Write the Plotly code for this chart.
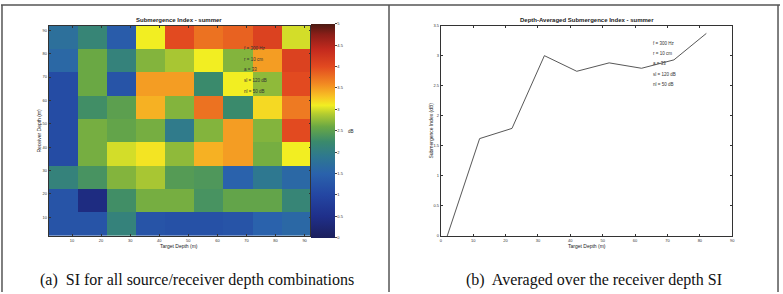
import plotly.graph_objects as go

W, H = 783, 294

# ---------- data ----------
target_depth = [7, 17, 27, 37, 47, 57, 67, 77, 87]
receiver_depth = [7, 17, 27, 37, 47, 57, 67, 77, 87]
# rows bottom (receiver 7 m) -> top (receiver 87 m), values in dB
si_row_07 = [1.25, 1.25, 2.10, 1.25, 1.20, 1.20, 1.25, 1.50, 1.60]
si_row_17 = [1.25, 0.40, 2.30, 2.65, 2.65, 2.35, 2.55, 2.55, 2.15]
si_row_27 = [2.10, 2.35, 2.70, 2.85, 2.45, 2.40, 1.50, 1.90, 1.60]
si_row_37 = [1.10, 2.65, 3.00, 3.15, 2.75, 3.40, 3.50, 2.65, 3.10]
si_row_47 = [1.10, 2.65, 2.55, 2.65, 1.95, 2.70, 3.50, 2.70, 4.00]
si_row_57 = [1.10, 2.30, 2.50, 3.40, 2.70, 3.75, 2.25, 3.20, 3.70]
si_row_67 = [1.10, 2.60, 1.25, 3.50, 3.50, 2.25, 3.10, 2.75, 4.00]
si_row_77 = [1.60, 2.60, 2.10, 2.70, 2.85, 3.10, 2.70, 3.50, 4.10]
si_row_87 = [1.75, 2.15, 1.40, 3.10, 4.00, 3.75, 3.85, 4.10, 3.00]

avg_depth = [2, 12, 22, 32, 42, 52, 62, 72, 82]
avg_si = [0.0, 1.62, 1.79, 3.0, 2.74, 2.88, 2.79, 2.93, 3.37]

x_ticks = [10, 20, 30, 40, 50, 60, 70, 80, 90]
y_ticks_left = [10, 20, 30, 40, 50, 60, 70, 80, 90]
cbar_ticks = [0, 0.5, 1, 1.5, 2, 2.5, 3, 3.5, 4, 4.5, 5]
right_x_ticks = [0, 10, 20, 30, 40, 50, 60, 70, 80, 90]
right_y_ticks = [0, 0.5, 1, 1.5, 2, 2.5, 3, 3.5]
param_text = ["f = 300 Hz", "r = 10 cm", "a = 33", "sl = 120 dB", "nl = 50 dB"]

z = [si_row_07, si_row_17, si_row_27, si_row_37, si_row_47,
     si_row_57, si_row_67, si_row_77, si_row_87]

colorscale = [
    [0.00, "#1b1f5c"], [0.10, "#1f2f8a"], [0.20, "#2446a2"], [0.30, "#2a62ac"],
    [0.38, "#2e7890"], [0.45, "#3a8a6c"], [0.52, "#6aa844"], [0.58, "#b4cc30"],
    [0.62, "#f2ee22"], [0.66, "#f8c424"], [0.72, "#f28a22"], [0.80, "#e24a20"],
    [0.88, "#c42a1e"], [0.95, "#8c1e18"], [1.00, "#4a1a12"],
]

def px_x(p):
    return p / W

def px_y(p):
    return 1 - p / H

FONT = "Liberation Sans, Arial, sans-serif"
tickfont = dict(family=FONT, size=4, color="#333")

fig = go.Figure()

fig.add_trace(go.Heatmap(
    x=target_depth, y=receiver_depth, z=z,
    zmin=0, zmax=5, colorscale=colorscale, xaxis="x", yaxis="y",
    colorbar=dict(
        x=px_x(312), xanchor="left", xpad=0, ypad=0,
        y=px_y(130), yanchor="middle",
        thickness=24, thicknessmode="pixels",
        len=214, lenmode="pixels",
        outlinewidth=0, tickvals=cbar_ticks, ticks="outside",
        ticklen=2, tickfont=tickfont,
    ),
))

fig.add_trace(go.Scatter(
    x=avg_depth, y=avg_si, mode="lines",
    line=dict(color="#444", width=0.9), xaxis="x2", yaxis="y2",
    showlegend=False,
))

axis_common = dict(
    ticks="inside", ticklen=2, tickcolor="#333", showline=True,
    linecolor="#333", linewidth=0.8, mirror="ticks", showgrid=False,
    zeroline=False, tickfont=tickfont,
)

ydom = [px_y(237), px_y(23)]
fig.update_layout(
    width=W, height=H, margin=dict(l=0, r=0, t=0, b=0),
    paper_bgcolor="white", plot_bgcolor="white", showlegend=False,
    xaxis=dict(domain=[px_x(48), px_x(311)], range=[2, 92], tickvals=x_ticks,
               anchor="y", **axis_common),
    yaxis=dict(domain=ydom, range=[2, 92], tickvals=y_ticks_left,
               anchor="x", **axis_common),
    xaxis2=dict(domain=[px_x(442), px_x(735)], range=[0, 90],
                tickvals=right_x_ticks, anchor="y2", **axis_common),
    yaxis2=dict(domain=ydom, range=[0, 3.5], tickvals=right_y_ticks,
                anchor="x2", **axis_common),
)

ann = []
def A(text, x, y, size=5, xanchor="center", yanchor="middle", angle=0,
      color="#222", family=FONT, bold=False):
    ann.append(dict(text=("<b>%s</b>" % text) if bold else text,
                    x=px_x(x), y=px_y(y), xref="paper", yref="paper",
                    showarrow=False, xanchor=xanchor, yanchor=yanchor,
                    textangle=angle,
                    font=dict(family=family, size=size, color=color)))

A("Submergence Index - summer", 179, 17, size=6, bold=True)
A("Target Depth (m)", 179, 247, size=5)
A("Receiver Depth (m)", 38, 130, size=5, angle=-90)
A("dB", 347, 131, size=4.5, xanchor="left")
A("Depth-Averaged Submergence Index - summer", 589, 17, size=6, bold=True)
A("Target Depth (m)", 589, 247, size=5)
A("Submergence Index (dB)", 432, 130, size=5, angle=-90)

for i, t in enumerate(param_text):
    A(t, 242, 46 + i * 11, size=4.5, xanchor="left", color="#333")
    A(t, 653, 41 + i * 10.5, size=4.5, xanchor="left", color="#333")

A("(a)  SI for all source/receiver depth combinations", 197, 282, size=16,
  family="Liberation Serif, Times New Roman, serif", color="#111")
A("(b)  Averaged over the receiver depth SI", 596, 282, size=16,
  family="Liberation Serif, Times New Roman, serif", color="#111")

fig.update_layout(annotations=ann)

shapes = []
for (x0, y0, x1, y1) in [(0, 2, W, 2), (1, 2, 1, H), (390, 2, 390, H),
                         (781, 2, 781, H)]:
    shapes.append(dict(type="line", xref="paper", yref="paper",
                       x0=px_x(x0), y0=px_y(y0), x1=px_x(x1), y1=px_y(y1),
                       line=dict(color="#555", width=1.5)))
fig.update_layout(shapes=shapes)

fig.write_html("out.html")
